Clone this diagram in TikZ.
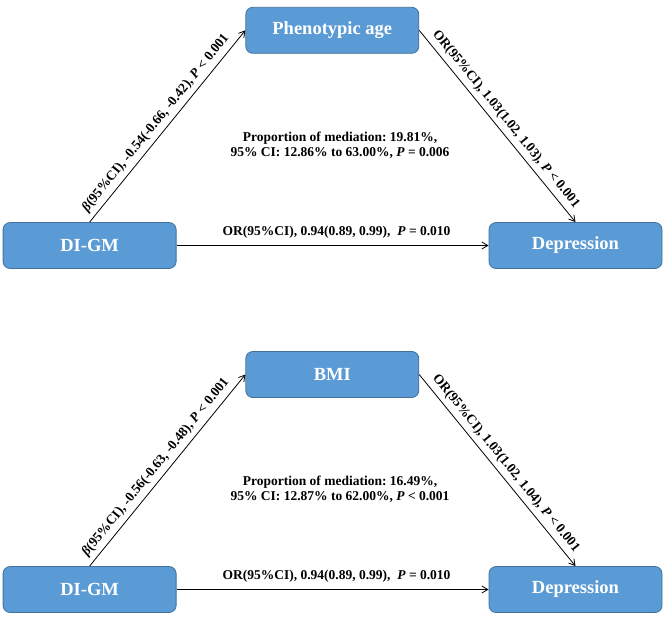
\documentclass[tikz,border=0pt]{standalone}
\usepackage{fontspec}
\setmainfont{Liberation Serif}
\usetikzlibrary{arrows.meta}
\definecolor{boxfill}{HTML}{5B9BD5}
\definecolor{boxline}{HTML}{41719C}
\frenchspacing
\tikzset{
  box/.style={draw=boxline, fill=boxfill, rounded corners=7pt, minimum width=173pt,
    minimum height=46pt, inner sep=0pt, line width=0.8pt, text=white,
    font=\fontsize{18.5}{20}\selectfont\bfseries},
  arr/.style={-{Straight Barb[length=6pt,width=7pt]}, line width=0.8pt},
  lab/.style={font=\fontsize{13.5}{15}\selectfont\bfseries\frenchspacing, inner sep=0pt, text=black},
}
\begin{document}
\begin{tikzpicture}[x=1pt,y=-1pt]
\useasboundingbox (0,0) rectangle (671,622);
% ---------- top panel ----------
\node[box] (x1) at (89.6,245.5) {DI-GM};
\node[box] (m1) at (332.3,30.3) {Phenotypic age};
\node[box] (y1) at (575.5,245.5) {Depression};
\draw[arr] (x1.north) -- (m1.west)
  node[lab, pos=0.48, sloped, above=4.5pt] {\textit{β}(95\%CI), -0.54(-0.66, -0.42), \textit{P} < 0.001};
\draw[arr] (m1.east) -- (y1.north)
  node[lab, midway, sloped, above=4.5pt] {OR(95\%CI), 1.03(1.02, 1.03), \textit{P} < 0.001};
\draw[arr] (x1.east) -- (y1.west)
  node[lab, midway, above=6.5pt, xshift=4pt] {OR(95\%CI), 0.94(0.89, 0.99),~ \textit{P} = 0.010};
\node[lab, align=center] (p1) at (340,145.5)
  {Proportion of mediation: 19.81\%,\\95\% CI: 12.86\% to 63.00\%, \textit{P} = 0.006};
% ---------- bottom panel ----------
\node[box] (x2) at (89.6,589.5) {DI-GM};
\node[box] (m2) at (332.3,374.5) {BMI};
\node[box] (y2) at (575.5,589.5) {Depression};
\draw[arr] (x2.north) -- (m2.west)
  node[lab, pos=0.48, sloped, above=4.5pt] {\textit{β}(95\%CI), -0.56(-0.63, -0.48), \textit{P} < 0.001};
\draw[arr] (m2.east) -- (y2.north)
  node[lab, midway, sloped, above=4.5pt] {OR(95\%CI), 1.03(1.02, 1.04), \textit{P} < 0.001};
\draw[arr] (x2.east) -- (y2.west)
  node[lab, midway, above=6.5pt, xshift=4pt] {OR(95\%CI), 0.94(0.89, 0.99),~ \textit{P} = 0.010};
\node[lab, align=center] (p2) at (340,489.5)
  {Proportion of mediation: 16.49\%,\\95\% CI: 12.87\% to 62.00\%, \textit{P} < 0.001};
\end{tikzpicture}
\end{document}
